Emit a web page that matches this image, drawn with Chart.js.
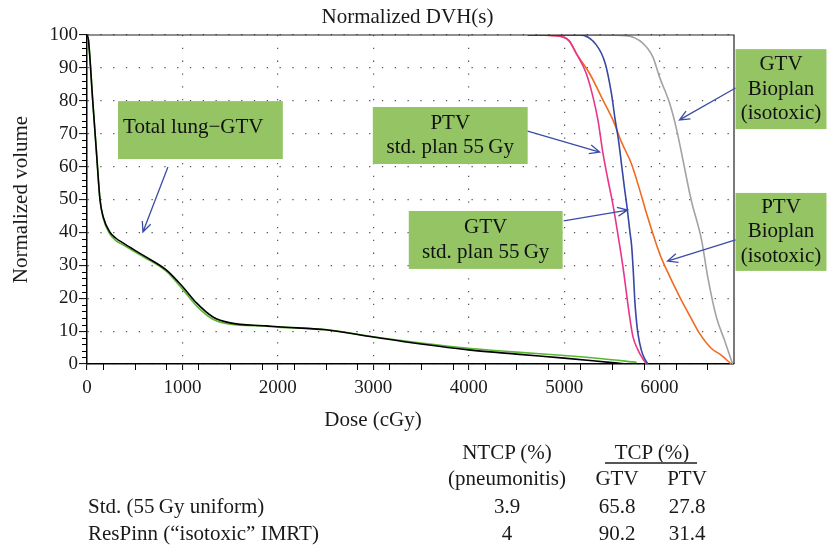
<!DOCTYPE html>
<html>
<head>
<meta charset="utf-8">
<script src="https://cdn.jsdelivr.net/npm/chart.js@4"></script>
<style>
  html, body { margin: 0; padding: 0; background: #fff; }
  #wrap { position: relative; width: 828px; height: 548px; }
  #c { position: absolute; left: 0; top: 0; }
  .t { position: absolute; font: 21px "Liberation Serif", "Times New Roman", serif; color: #1a1a1a;
       line-height: 24px; height: 24px; white-space: nowrap; }
  .mid { transform: translateX(-50%); }
</style>
</head>
<body>
<div id="wrap">
  <canvas id="c" width="828" height="548"></canvas>
</div>
<script>
// dose (cGy) / normalized volume (%)
const lungStdDose = [0, 15, 60, 100, 136, 170, 240, 300, 377, 590, 830, 1005, 1150, 1320, 1500, 1880, 2000, 2500, 3000, 3500, 4000, 4500, 5000, 5300, 5650];
const lungStdVol  = [100, 98.5, 80, 64, 50, 44.7, 40.1, 38.3, 36.8, 33, 28.6, 23.4, 18.5, 14.3, 12.5, 11.6, 11.3, 10.4, 8.2, 6.1, 4.3, 3, 1.8, 1, 0];
const lungIsoDose = [0, 15, 60, 100, 136, 170, 240, 300, 377, 590, 830, 1005, 1150, 1320, 1500, 1880, 2000, 2500, 3000, 3500, 4000, 4500, 5000, 5400, 5760];
const lungIsoVol  = [100, 98.5, 80, 64, 50, 44.3, 39.5, 37.6, 36.2, 32.6, 28.2, 22.6, 17.6, 13.6, 12.1, 11.5, 11.2, 10.5, 8.3, 6.4, 4.8, 3.6, 2.6, 1.6, 0.5];
const gtvStdDose  = [4620, 5162, 5337, 5430, 5495, 5535, 5570, 5600, 5630, 5660, 5690, 5707, 5725, 5740, 5755, 5773, 5808, 5840, 5878];
const gtvStdVol   = [100, 100, 97, 91.4, 82.3, 74.2, 68, 61, 54, 47.5, 40, 36, 28, 19.5, 14, 9.3, 4.3, 1.8, 0];
const ptvStdDose  = [4620, 4900, 5050, 5127, 5232, 5302, 5354, 5407, 5459, 5511, 5560, 5616, 5686, 5721, 5773, 5820, 5861];
const ptvStdVol   = [100, 99.8, 98.3, 94.4, 88.3, 81.2, 74.2, 64, 56, 48.5, 40, 29.6, 14.4, 8.3, 4.3, 1.8, 0];
const gtvBioDose  = [4620, 5400, 5650, 5820, 5930, 6000, 6105, 6180, 6245, 6330, 6440, 6505, 6595, 6680, 6765];
const gtvBioVol   = [100, 100, 99.8, 97.6, 93.3, 87.2, 79.3, 71.1, 62, 50, 37.7, 26.4, 14.3, 7.3, 0];
const ptvBioDose  = [4620, 4900, 5050, 5127, 5267, 5407, 5511, 5600, 5703, 5791, 5861, 6000, 6100, 6209, 6320, 6419, 6541, 6646, 6751];
const ptvBioVol   = [100, 99.8, 98.3, 94.4, 88.3, 80.2, 74.2, 67.5, 61, 53, 46, 33.6, 27, 20.5, 14.5, 9.3, 4.8, 2.7, 0];

const xTicks = [0, 1000, 2000, 3000, 4000, 5000, 6000];
const xMinorTicks = [167, 500, 833, 1167, 1500, 1833, 2167, 2500, 2833, 3167, 3500, 3833, 4167, 4500, 4833, 5167, 5500, 5833, 6167, 6500];
const yTicks = [0, 10, 20, 30, 40, 50, 60, 70, 80, 90, 100];
const yMinorTicks = [2, 4, 6, 8, 12, 14, 16, 18, 22, 24, 26, 28, 32, 34, 36, 38, 42, 44, 46, 48, 52, 54, 56, 58, 62, 64, 66, 68, 72, 74, 76, 78, 82, 84, 86, 88, 92, 94, 96, 98];

// summary table
const rowLabels = ["Std. (55\u2009Gy uniform)", "ResPinn (\u201cisotoxic\u201d IMRT)"];
const ntcp   = ["3.9", "4"];
const tcpGtv = ["65.8", "90.2"];
const tcpPtv = ["27.8", "31.4"];

// callouts: box corners and arrow ends in data units
const notes = [
  { lines: ["Total lung\u2212GTV"], x0: 325, x1: 2052, y0: 62.3, y1: 79.9, from: [848, 59.9], to: [586, 40.1], dy: -3, left: true },
  { lines: ["PTV", "std. plan 55\u2009Gy"], x0: 2995, x1: 4618, y0: 60.8, y1: 78.1, from: [4618, 70.8], to: [5372, 64.4] },
  { lines: ["GTV", "std. plan 55\u2009Gy"], x0: 3372, x1: 4984, y0: 28.9, y1: 46.5, from: [4995, 43.5], to: [5665, 46.8] },
  { lines: ["GTV", "Bioplan", "(isotoxic)"], x0: 6796, x1: 7749, y0: 71.4, y1: 95.7, from: [6796, 83.9], to: [6209, 74.2] },
  { lines: ["PTV", "Bioplan", "(isotoxic)"], x0: 6796, x1: 7749, y0: 28.3, y1: 52, from: [6796, 37.7], to: [6084, 31.3] }
];

const FONT = '"Liberation Serif", "Times New Roman", serif';
Chart.defaults.font.family = FONT;
Chart.defaults.color = "#1a1a1a";

const pts = (d, v) => d.map((x, i) => ({ x, y: v[i] }));
const curve = (data, color) => ({
  data, borderColor: color, borderWidth: 1.6, pointRadius: 0,
  cubicInterpolationMode: "monotone", fill: false
});

function drawArrow(ctx, x1, y1, x2, y2) {
  const ang = Math.atan2(y2 - y1, x2 - x1), len = 11, sp = 0.42;
  ctx.beginPath();
  ctx.moveTo(x1, y1); ctx.lineTo(x2, y2);
  ctx.moveTo(x2 - len * Math.cos(ang - sp), y2 - len * Math.sin(ang - sp));
  ctx.lineTo(x2, y2);
  ctx.lineTo(x2 - len * Math.cos(ang + sp), y2 - len * Math.sin(ang + sp));
  ctx.stroke();
}

const decor = {
  id: "decor",
  afterDatasetsDraw(chart) {
    const { ctx, chartArea: a, scales: { x, y } } = chart;
    ctx.save();
    // frame on top and right
    ctx.strokeStyle = "#222"; ctx.lineWidth = 1.2;
    ctx.beginPath();
    ctx.moveTo(a.left, a.top); ctx.lineTo(a.right, a.top); ctx.lineTo(a.right, a.bottom);
    ctx.stroke();
    // minor ticks
    ctx.strokeStyle = "#000"; ctx.lineWidth = 1;
    ctx.beginPath();
    xMinorTicks.forEach(v => { const p = Math.round(x.getPixelForValue(v)) + 0.5; ctx.moveTo(p, a.bottom); ctx.lineTo(p, a.bottom + 6); });
    yMinorTicks.forEach(v => { const p = Math.round(y.getPixelForValue(v)) + 0.5; ctx.moveTo(a.left - 5, p); ctx.lineTo(a.left, p); });
    ctx.stroke();
    // callouts
    ctx.font = "21px " + FONT;
    ctx.textBaseline = "middle";
    notes.forEach(n => {
      const l = x.getPixelForValue(n.x0), r = x.getPixelForValue(n.x1);
      const t = y.getPixelForValue(n.y1), b = y.getPixelForValue(n.y0);
      ctx.fillStyle = "#94c464";
      ctx.fillRect(l, t, r - l, b - t);
      ctx.fillStyle = "#111";
      ctx.textAlign = n.left ? "left" : "center";
      const tx = n.left ? l + 5 : (l + r) / 2;
      const cy = (t + b) / 2 + (n.dy || 0), lh = 24.5;
      n.lines.forEach((s, i) => ctx.fillText(s, tx, cy + (i - (n.lines.length - 1) / 2) * lh));
      ctx.strokeStyle = "#3c4ca6"; ctx.lineWidth = 1.3;
      drawArrow(ctx, x.getPixelForValue(n.from[0]), y.getPixelForValue(n.from[1]),
                     x.getPixelForValue(n.to[0]), y.getPixelForValue(n.to[1]));
    });
    // titles
    ctx.fillStyle = "#1a1a1a";
    ctx.textAlign = "center";
    ctx.fillText("Normalized DVH(s)", (a.left + a.right) / 2 - 3, 17);
    ctx.fillText("Dose (cGy)", 373, 420);
    ctx.restore();
  }
};

const dotted = { color: "#555", lineWidth: 1.2, tickColor: "#000", tickWidth: 1, tickBorderDash: [] };

new Chart(document.getElementById("c"), {
  type: "line",
  data: {
    datasets: [
      curve(pts(lungStdDose, lungStdVol), "#000000"),
      curve(pts(lungIsoDose, lungIsoVol), "#5ab534"),
      curve(pts(gtvStdDose, gtvStdVol), "#3847a3"),
      curve(pts(ptvStdDose, ptvStdVol), "#e8358c"),
      curve(pts(ptvBioDose, ptvBioVol), "#f26a1f"),
      curve(pts(gtvBioDose, gtvBioVol), "#a3a3a3")
    ]
  },
  options: {
    responsive: false,
    animation: false,
    layout: { padding: { left: 0, top: 35, right: 94, bottom: 114 } },
    plugins: { legend: { display: false }, title: { display: false }, tooltip: { enabled: false } },
    scales: {
      x: {
        type: "linear", min: 0, max: 6780,
        afterBuildTicks: s => { s.ticks = xTicks.map(v => ({ value: v })); },
        afterFit: s => { s.height = 70; },
        grid: { ...dotted, tickLength: 6 },
        border: { display: true, color: "#000", width: 1.5, dash: [1.3, 11.5] },
        ticks: { font: { size: 19 }, padding: 7, color: "#1a1a1a", maxRotation: 0, callback: v => String(v) }
      },
      y: {
        min: 0, max: 100,
        afterBuildTicks: s => { s.ticks = yTicks.map(v => ({ value: v })); },
        afterFit: s => { s.width = 87; },
        grid: { ...dotted, tickLength: 8 },
        border: { display: true, color: "#000", width: 1.5, dash: [1.3, 11.5] },
        ticks: { font: { size: 19 }, padding: 1, color: "#1a1a1a", callback: v => String(v) },
        title: { display: true, text: "Normalized volume", font: { size: 21 }, color: "#1a1a1a", padding: { top: 9, bottom: 0 } }
      }
    }
  },
  plugins: [decor]
});

// table below the plot
const wrap = document.getElementById("wrap");
function put(text, x, y, center) {
  const s = document.createElement("div");
  s.className = "t" + (center ? " mid" : "");
  s.textContent = text;
  s.style.left = x + "px";
  s.style.top = (y - 12) + "px";
  wrap.appendChild(s);
}
const colX = [507, 617, 687], headY = [452, 478], rowY = [506, 533];
put("NTCP (%)", colX[0], headY[0], true);
put("(pneumonitis)", colX[0], headY[1], true);
put("TCP (%)", (colX[1] + colX[2]) / 2, headY[0], true);
put("GTV", colX[1], headY[1], true);
put("PTV", colX[2], headY[1], true);
const rule = document.createElement("div");
rule.style.cssText = "position:absolute;left:605px;top:462px;width:92px;height:2px;background:#555;";
wrap.appendChild(rule);
rowLabels.forEach((lab, i) => {
  put(lab, 88, rowY[i], false);
  put(ntcp[i], colX[0], rowY[i], true);
  put(tcpGtv[i], colX[1], rowY[i], true);
  put(tcpPtv[i], colX[2], rowY[i], true);
});
</script>
</body>
</html>
